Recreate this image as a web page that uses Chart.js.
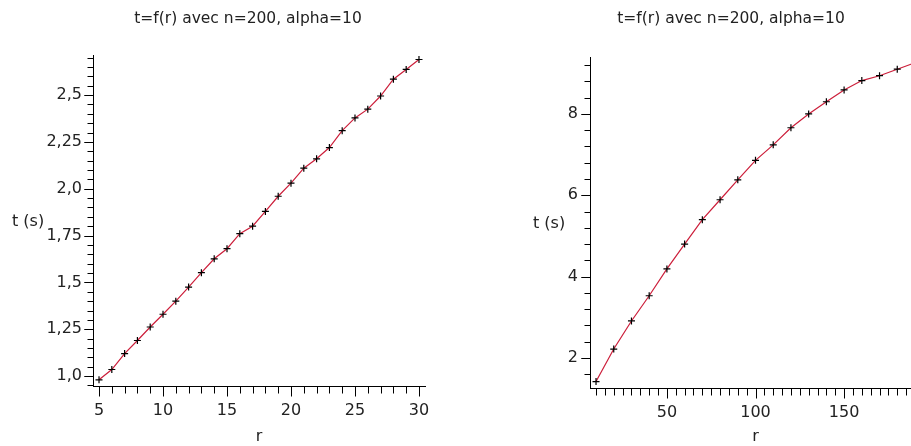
<!DOCTYPE html>
<html><head><meta charset="utf-8">
<script src="https://cdn.jsdelivr.net/npm/chart.js@4"></script>
<style>
html,body{margin:0;padding:0;background:#fff;overflow:hidden;width:911px;height:446px;position:relative}
#c1{position:absolute;left:0;top:0}
#c2{position:absolute;left:455px;top:0}
</style></head><body>
<canvas id="c1" width="455" height="446"></canvas>
<canvas id="c2" width="478" height="446"></canvas>
<script>
// ---- data ----
const titleText = 't=f(r) avec n=200, alpha=10';
const yTitle = 't (s)';
const xTitle = 'r';

const leftR = [5,6,7,8,9,10,11,12,13,14,15,16,17,18,19,20,21,22,23,24,25,26,27,28,29,30];
const leftT = [0.98,1.035,1.12,1.19,1.262,1.33,1.40,1.475,1.552,1.626,1.68,1.76,1.80,1.879,1.96,2.03,2.11,2.16,2.22,2.31,2.378,2.425,2.495,2.585,2.637,2.69];
const leftXTicks = [5,10,15,20,25,30];
const leftXLabels = ['5','10','15','20','25','30'];
const leftYTicks = [1.0,1.25,1.5,1.75,2.0,2.25,2.5];
const leftYLabels = ['1,0','1,25','1,5','1,75','2,0','2,25','2,5'];

const rightR = [10,20,30,40,50,60,70,80,90,100,110,120,130,140,150,160,170,180,190];
const rightT = [1.42,2.22,2.91,3.53,4.19,4.80,5.40,5.89,6.38,6.86,7.24,7.66,8.00,8.30,8.59,8.82,8.94,9.10,9.26];
const rightXTicks = [50,100,150];
const rightXLabels = ['50','100','150'];
const rightYTicks = [2,4,6,8];
const rightYLabels = ['2','4','6','8'];

const FONT = 'DejaVu Sans';
const TXT = '#222';
const LINE = 'rgb(204,30,58)';

function steps(a, b, s){ const out=[]; const n=Math.round((b-a)/s); for(let i=0;i<=n;i++) out.push(+(a+i*s).toFixed(6)); return out; }

const tickMarks = {
  id: 'tickMarks',
  afterDraw(chart, args, o) {
    const ctx = chart.ctx, xs = chart.scales.x, ys = chart.scales.y;
    ctx.save();
    ctx.strokeStyle = '#000';
    ctx.lineWidth = 1;
    ctx.beginPath();
    const yx = Math.round(ys.right) + 0.5;
    o.yMinor.forEach(v => {
      const major = o.yMajor.some(m => Math.abs(m - v) < 1e-6);
      const py = Math.round(ys.getPixelForValue(v)) + 0.5;
      const len = major ? 9 : 6;
      ctx.moveTo(yx - len, py); ctx.lineTo(yx, py);
    });
    o.yMajor.forEach(v => {
      const py = Math.round(ys.getPixelForValue(v)) + 0.5;
      ctx.moveTo(yx - 9, py); ctx.lineTo(yx, py);
    });
    const xy = Math.round(xs.top) + 0.5;
    o.xMinor.forEach(v => {
      const px = Math.round(xs.getPixelForValue(v)) + 0.5;
      ctx.moveTo(px, xy); ctx.lineTo(px, xy + 7);
    });
    o.xMajor.forEach(v => {
      const px = Math.round(xs.getPixelForValue(v)) + 0.5;
      ctx.moveTo(px, xy); ctx.lineTo(px, xy + 10);
    });
    ctx.stroke();
    ctx.fillStyle = TXT;
    ctx.font = '16px "' + FONT + '"';
    ctx.textAlign = 'left';
    ctx.textBaseline = 'middle';
    ctx.fillText(yTitle, o.labelX, (ys.top + ys.bottom) / 2 + o.labelDy);
    ctx.restore();
  }
};

function makeChart(id, r, t, cfg) {
  const pts = r.map((x, i) => ({x, y: t[i]}));
  return new Chart(document.getElementById(id), {
    type: 'line',
    data: { datasets: [{
      data: pts,
      borderColor: LINE, borderWidth: 1.2, tension: 0, fill: false,
      pointStyle: 'cross', pointRadius: 3.5, pointBorderColor: '#000', pointBorderWidth: 1.2,
      pointBackgroundColor: '#000'
    }]},
    options: {
      responsive: false, animation: false, devicePixelRatio: 1,
      layout: { padding: { left: cfg.padL, right: cfg.padR, top: 0, bottom: 0 } },
      plugins: {
        legend: { display: false }, tooltip: { enabled: false },
        title: { display: true, text: titleText, color: TXT,
          font: { family: FONT, size: 15.5, weight: 'normal' },
          padding: { top: 10, bottom: cfg.top - 10 - 18.6 } },
        tickMarks: { xMajor: cfg.xTicks, yMajor: cfg.yTicks, xMinor: cfg.xMinor, yMinor: cfg.yMinor,
          labelX: cfg.labelX, labelDy: cfg.labelDy }
      },
      scales: {
        x: {
          type: 'linear', min: cfg.xMin, max: cfg.xMax,
          afterBuildTicks: s => { s.ticks = cfg.xTicks.map(v => ({value: v})); },
          afterFit: s => { s.height = cfg.xH; },
          ticks: { color: TXT, font: { family: FONT, size: 16 }, padding: 15, maxRotation: 0, autoSkip: false,
            callback: (v) => { const i = cfg.xTicks.indexOf(v); return i >= 0 ? cfg.xLabels[i] : ''; } },
          grid: { display: true, drawOnChartArea: false, drawTicks: false, color: 'rgba(0,0,0,0)' },
          border: { display: true, color: '#000', width: 1 },
          title: { display: true, text: xTitle, color: TXT, font: { family: FONT, size: 16 },
            padding: { top: 0, bottom: cfg.xTitlePad } }
        },
        y: {
          type: 'linear', min: cfg.yMin, max: cfg.yMax,
          afterBuildTicks: s => { s.ticks = cfg.yTicks.map(v => ({value: v})); },
          afterFit: s => { s.width = cfg.yW; s._computeLabelArea = () => undefined; },
          ticks: { color: TXT, font: { family: FONT, size: 16 }, padding: cfg.yPad, autoSkip: false,
            callback: (v) => { const i = cfg.yTicks.findIndex(m => Math.abs(m - v) < 1e-6); return i >= 0 ? cfg.yLabels[i] : ''; } },
          grid: { display: true, drawOnChartArea: false, drawTicks: false, color: 'rgba(0,0,0,0)' },
          border: { display: true, color: '#000', width: 1 }
        }
      }
    },
    plugins: [tickMarks]
  });
}

makeChart('c1', leftR, leftT, {
  padL: 71, padR: 30, top: 55, xH: 60, yW: 22, yPad: 11, xTitlePad: 0,
  xMin: 4.53, xMax: 30.47, yMin: 0.947, yMax: 2.714,
  xTicks: leftXTicks, xLabels: leftXLabels, yTicks: leftYTicks, yLabels: leftYLabels,
  xMinor: steps(5, 30, 1), yMinor: steps(0.95, 2.70, 0.05),
  labelX: 12, labelDy: 1.5
});

makeChart('c2', rightR, rightT, {
  padL: 86, padR: 12, top: 57, xH: 58, yW: 49, yPad: 12, xTitlePad: 0,
  xMin: 6.6, xMax: 193.4, yMin: 1.262, yMax: 9.40,
  xTicks: rightXTicks, xLabels: rightXLabels, yTicks: rightYTicks, yLabels: rightYLabels,
  xMinor: steps(10, 190, 5), yMinor: steps(1.6, 9.2, 0.4),
  labelX: 78, labelDy: 1.5
});
</script>
</body></html>
